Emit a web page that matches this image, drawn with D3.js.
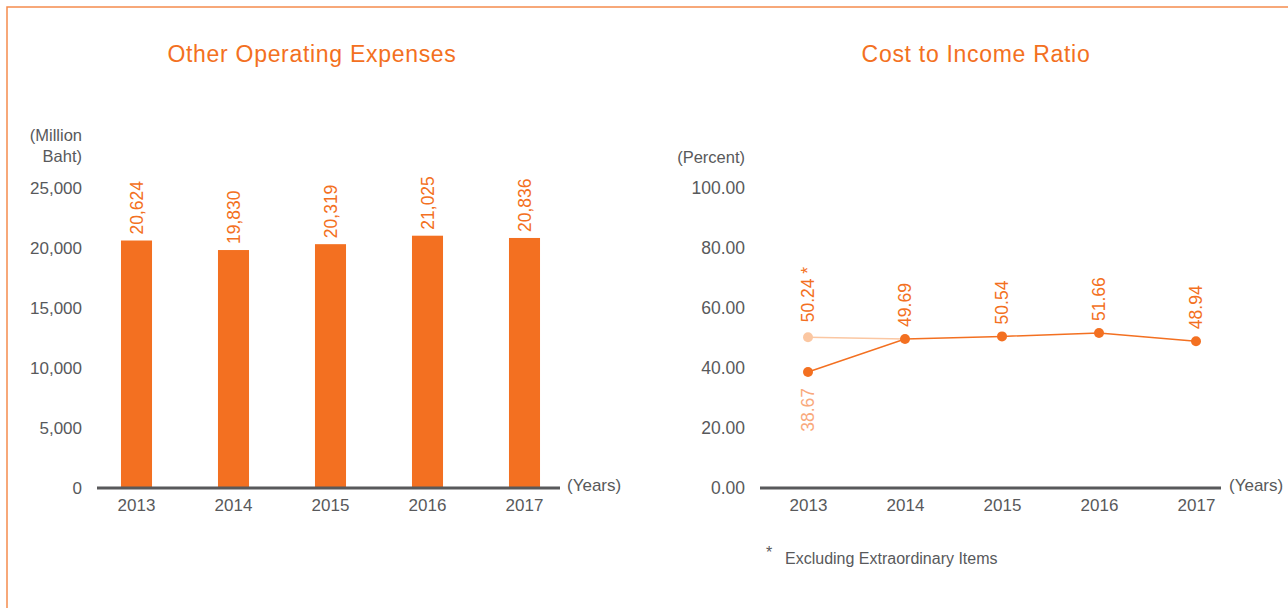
<!DOCTYPE html>
<html>
<head>
<meta charset="utf-8">
<script src="https://cdn.jsdelivr.net/npm/d3@7"></script>
<style>
  body { margin: 0; background: #fff; }
  svg { display: block; font-family: "Liberation Sans", Arial, sans-serif; }
</style>
</head>
<body>
<svg id="Target" width="1288" height="608"></svg>
<script>
const years = ["2013", "2014", "2015", "2016", "2017"];
const expenses = [20624, 19830, 20319, 21025, 20836];
const expenseTicks = [0, 5000, 10000, 15000, 20000, 25000];
const ratio = [38.67, 49.69, 50.54, 51.66, 48.94];
const ratioExclYears = ["2013", "2014"];
const ratioExcl = [50.24, 49.69];
const ratioTicks = [0, 20, 40, 60, 80, 100];

const orange = "#F37021";
const light = "#FBC7A2";
const lightText = "#F9A97C";
const grey = "#58595B";

const svg = d3.select("#Target");

// frame
svg.append("path")
    .attr("d", "M7,608V7H1288")
    .attr("fill", "none")
    .attr("stroke", "#F58C4E")
    .attr("stroke-width", 1.5);

// ---------- left: bars ----------
const x1 = d3.scaleBand().domain(years).range([88, 573])
    .paddingInner(0.68).paddingOuter(0.34);
const y1 = d3.scaleLinear().domain([0, 25000]).range([488, 188]);

svg.append("text")
    .attr("x", 312).attr("y", 62)
    .attr("text-anchor", "middle")
    .attr("fill", orange)
    .attr("font-size", 23)
    .attr("letter-spacing", 0.7)
    .text("Other Operating Expenses");

const yAxis1 = svg.append("g")
    .attr("transform", "translate(90,0)")
    .call(d3.axisLeft(y1).tickValues(expenseTicks).tickFormat(d3.format(",")).tickSize(0).tickPadding(8));
yAxis1.select(".domain").remove();
yAxis1.selectAll("text").attr("fill", grey).attr("font-size", 17).attr("font-family", null);

svg.append("text")
    .attr("text-anchor", "end").attr("fill", grey).attr("font-size", 16.5)
    .selectAll("tspan").data(["(Million", "Baht)"]).join("tspan")
    .attr("x", 82).attr("y", (d, i) => 141 + i * 21)
    .text(d => d);

svg.selectAll("rect.bar")
    .data(expenses)
    .join("rect")
    .attr("class", "bar")
    .attr("x", (d, i) => x1(years[i]))
    .attr("width", x1.bandwidth())
    .attr("y", d => y1(d))
    .attr("height", d => y1(0) - y1(d))
    .attr("fill", orange);

svg.selectAll("text.barlabel")
    .data(expenses)
    .join("text")
    .attr("class", "barlabel")
    .attr("transform", (d, i) => `translate(${x1(years[i]) + x1.bandwidth() / 2 + 6},${y1(d) - 6}) rotate(-90)`)
    .attr("fill", orange)
    .attr("font-size", 17.5)
    .text(d3.format(","));

const xAxis1 = svg.append("g")
    .attr("transform", "translate(0,488)")
    .call(d3.axisBottom(x1).tickSize(0).tickPadding(11));
xAxis1.select(".domain").remove();
xAxis1.selectAll("text").attr("fill", grey).attr("font-size", 17).attr("font-family", null);

svg.append("line")
    .attr("x1", 97).attr("x2", 560).attr("y1", 488).attr("y2", 488)
    .attr("stroke", grey).attr("stroke-width", 3);
svg.append("text")
    .attr("x", 567).attr("y", 491)
    .attr("fill", grey).attr("font-size", 17)
    .text("(Years)");

// ---------- right: line ----------
const x2 = d3.scalePoint().domain(years).range([759.5, 1244.5]).padding(0.5);
const y2 = d3.scaleLinear().domain([0, 100]).range([488, 188]);

svg.append("text")
    .attr("x", 976).attr("y", 62)
    .attr("text-anchor", "middle")
    .attr("fill", orange)
    .attr("font-size", 23)
    .attr("letter-spacing", 0.7)
    .text("Cost to Income Ratio");

const yAxis2 = svg.append("g")
    .attr("transform", "translate(753,0)")
    .call(d3.axisLeft(y2).tickValues(ratioTicks).tickFormat(d3.format(".2f")).tickSize(0).tickPadding(8));
yAxis2.select(".domain").remove();
yAxis2.selectAll("text").attr("fill", grey).attr("font-size", 17.5).attr("font-family", null);

svg.append("text")
    .attr("x", 745).attr("y", 163)
    .attr("text-anchor", "end").attr("fill", grey).attr("font-size", 16.5)
    .text("(Percent)");

const line = d3.line().x(d => x2(d[0])).y(d => y2(d[1]));

svg.append("path")
    .datum(ratioExclYears.map((yr, i) => [yr, ratioExcl[i]]))
    .attr("d", line)
    .attr("fill", "none")
    .attr("stroke", light)
    .attr("stroke-width", 1.5);

svg.append("path")
    .datum(years.map((yr, i) => [yr, ratio[i]]))
    .attr("d", line)
    .attr("fill", "none")
    .attr("stroke", orange)
    .attr("stroke-width", 1.5);

svg.append("circle")
    .attr("cx", x2(ratioExclYears[0])).attr("cy", y2(ratioExcl[0]))
    .attr("r", 5).attr("fill", light);

svg.selectAll("circle.pt")
    .data(ratio)
    .join("circle")
    .attr("class", "pt")
    .attr("cx", (d, i) => x2(years[i]))
    .attr("cy", d => y2(d))
    .attr("r", 5)
    .attr("fill", orange);

// labels: 2013 main value sits below its point, the rest above
svg.selectAll("text.ptlabel")
    .data(ratio)
    .join("text")
    .attr("class", "ptlabel")
    .attr("transform", (d, i) => i === 0
        ? `translate(${x2(years[i]) + 6},${y2(d) + 16}) rotate(-90)`
        : `translate(${x2(years[i]) + 6},${y2(d) - 12}) rotate(-90)`)
    .attr("text-anchor", (d, i) => i === 0 ? "end" : "start")
    .attr("fill", (d, i) => i === 0 ? lightText : orange)
    .attr("font-size", 17.5)
    .text(d3.format(".2f"));

svg.append("text")
    .attr("transform", `translate(${x2(ratioExclYears[0]) + 6},${y2(ratioExcl[0]) - 15}) rotate(-90)`)
    .attr("fill", orange)
    .attr("font-size", 17.5)
    .text(d3.format(".2f")(ratioExcl[0]) + "  *");

const xAxis2 = svg.append("g")
    .attr("transform", "translate(0,488)")
    .call(d3.axisBottom(x2).tickSize(0).tickPadding(11));
xAxis2.select(".domain").remove();
xAxis2.selectAll("text").attr("fill", grey).attr("font-size", 17).attr("font-family", null);

svg.append("line")
    .attr("x1", 760).attr("x2", 1221).attr("y1", 488).attr("y2", 488)
    .attr("stroke", grey).attr("stroke-width", 3);
svg.append("text")
    .attr("x", 1229).attr("y", 491)
    .attr("fill", grey).attr("font-size", 17)
    .text("(Years)");

svg.append("text")
    .attr("x", 766).attr("y", 558)
    .attr("fill", grey).attr("font-size", 16)
    .text("*");
svg.append("text")
    .attr("x", 785).attr("y", 564)
    .attr("fill", grey).attr("font-size", 16)
    .text("Excluding Extraordinary Items");
</script>
</body>
</html>
